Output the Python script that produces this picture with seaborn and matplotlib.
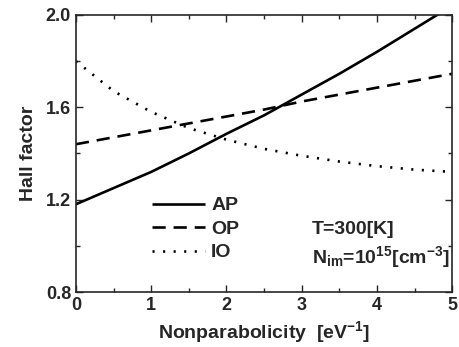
import matplotlib
matplotlib.use("Agg")
import matplotlib.pyplot as plt
import seaborn as sns
import pandas as pd
from matplotlib.ticker import MultipleLocator

x = [0, 0.5, 1, 1.5, 2, 2.5, 3, 3.5, 4, 4.5, 5]
ap = [1.18, 1.25, 1.32, 1.40, 1.485, 1.565, 1.655, 1.745, 1.84, 1.94, 2.04]
op = [1.44, 1.47, 1.50, 1.53, 1.56, 1.59, 1.625, 1.655, 1.685, 1.715, 1.745]
io = [1.80, 1.67, 1.58, 1.51, 1.46, 1.42, 1.39, 1.365, 1.345, 1.33, 1.32]
labels = ["AP", "OP", "IO"]

sns.set_style("ticks")
plt.rcParams['font.family'] = ['Liberation Sans', 'DejaVu Sans']
plt.rcParams['font.weight'] = 'bold'
plt.rcParams['mathtext.fontset'] = 'custom'
plt.rcParams['mathtext.rm'] = 'Liberation Sans:bold'
plt.rcParams['mathtext.bf'] = 'Liberation Sans:bold'
plt.rcParams['mathtext.default'] = 'rm'

fig = plt.figure(figsize=(4.6, 3.47), dpi=100)
ax = fig.add_axes([0.165, 0.1585, 0.818, 0.7985])

df = pd.DataFrame({"x": x, "AP": ap, "OP": op, "IO": io})
styles = {"AP": (0, ()), "OP": (0, (5, 3)), "IO": (0, (0.8, 3.2))}
for lab in labels:
    sns.lineplot(data=df, x="x", y=lab, ax=ax, color="black", lw=1.9,
                 linestyle=styles[lab], label=lab)

ax.set_xlim(0, 5)
ax.set_ylim(0.8, 2.0)
ax.xaxis.set_major_locator(MultipleLocator(1))
ax.xaxis.set_minor_locator(MultipleLocator(0.5))
ax.yaxis.set_major_locator(MultipleLocator(0.4))
ax.yaxis.set_minor_locator(MultipleLocator(0.2))
ax.tick_params(which='both', direction='in', top=True, right=True, labelsize=13, width=1)
ax.tick_params(which='major', length=5)
ax.tick_params(which='minor', length=3)
for s in ax.spines.values():
    s.set_linewidth(1.2)
    s.set_visible(True)
ax.set_yticks([0.8, 1.2, 1.6, 2.0])
ax.set_yticklabels(["0.8", "1.2", "1.6", "2.0"])
for t in ax.get_xticklabels() + ax.get_yticklabels():
    t.set_fontweight('bold')

ax.set_xlabel("Nonparabolicity  [eV$^{-1}$]", fontsize=14, fontweight='bold', labelpad=4)
ax.set_ylabel("Hall factor", fontsize=14, fontweight='bold', labelpad=6)

leg = ax.legend(frameon=False, loc='center left', bbox_to_anchor=(0.202, 0.227),
                handlelength=2.75, fontsize=14, labelspacing=0.3, handletextpad=0.3,
                borderaxespad=0, borderpad=0)
for t in leg.get_texts():
    t.set_fontweight('bold')

ax.text(0.628, 0.224, "T=300[K]", transform=ax.transAxes, fontsize=14,
        fontweight='bold', va='center')
ax.text(0.628, 0.126, r"N$_{im}$=10$^{15}$[cm$^{-3}$]", transform=ax.transAxes,
        fontsize=14, fontweight='bold', va='center')

fig.savefig("out.png", dpi=100)
